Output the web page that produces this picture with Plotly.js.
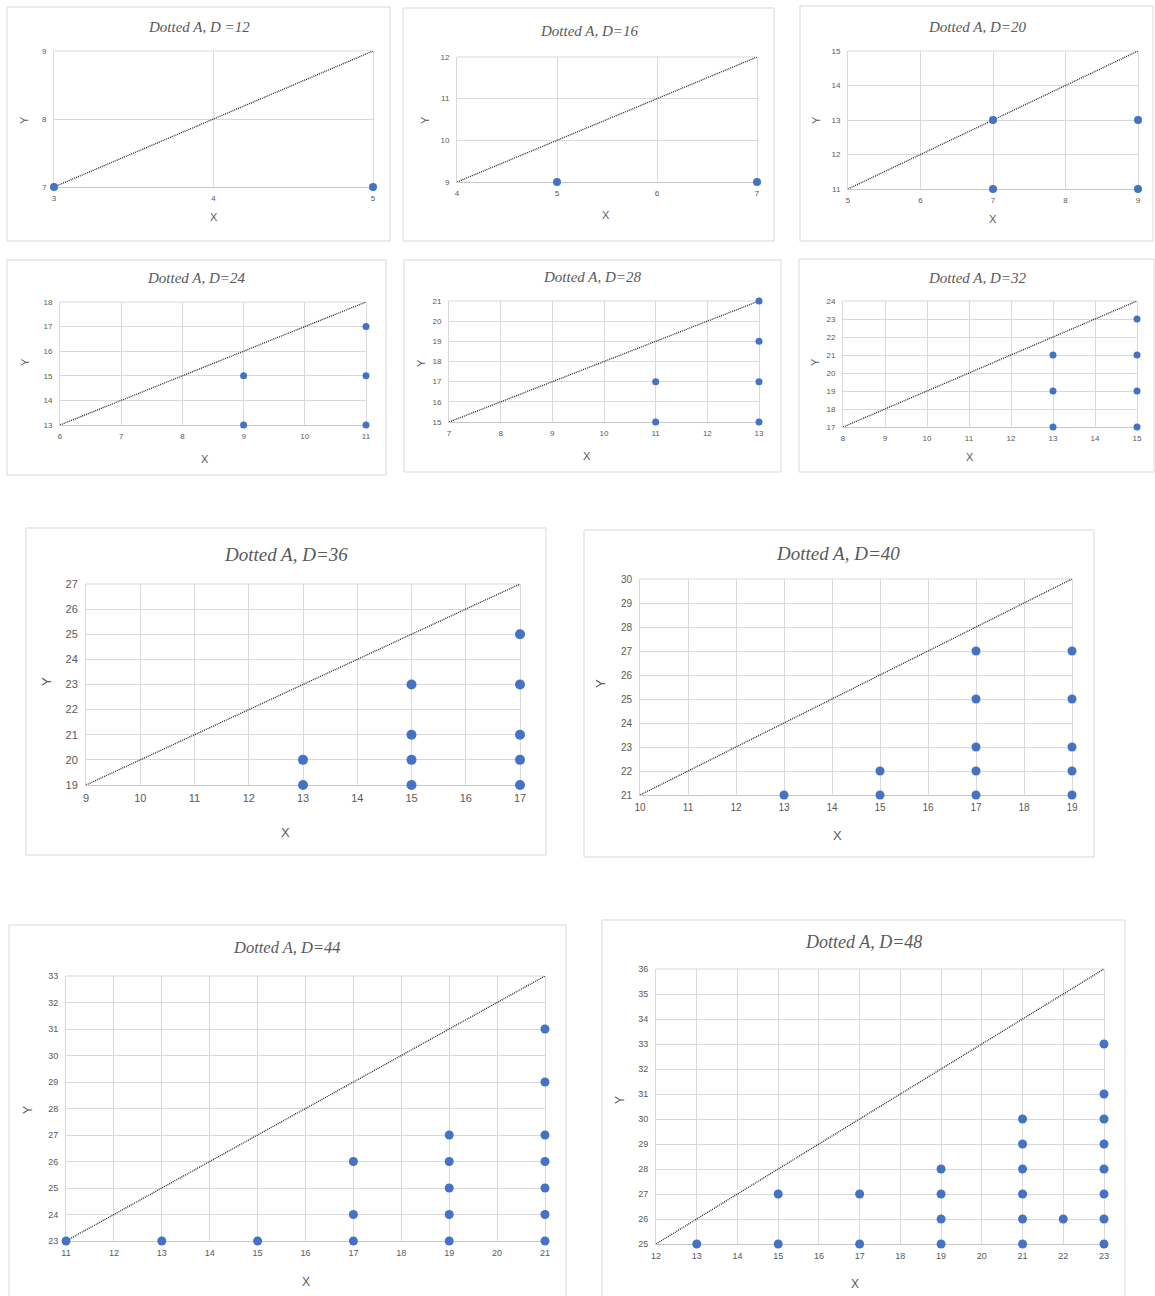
<!DOCTYPE html>
<html>
<head>
<meta charset="utf-8">
<script src="https://cdn.plot.ly/plotly-3.0.1.min.js"></script>
<style>
  html, body { margin: 0; padding: 0; background: #ffffff; }
  #chart { width: 1155px; height: 1296px; }
</style>
</head>
<body>
<div id="chart"></div>
<script>
// Lattice points for the dotted A figures, one panel per D value
const titles = ['Dotted A, D =12', 'Dotted A, D=16', 'Dotted A, D=20', 'Dotted A, D=24',
                'Dotted A, D=28', 'Dotted A, D=32', 'Dotted A, D=36', 'Dotted A, D=40',
                'Dotted A, D=44', 'Dotted A, D=48'];

// Axis ranges per panel (the diagonal runs corner to corner)
const xMin = [3, 4, 5, 6, 7, 8, 9, 10, 11, 12];
const xMax = [5, 7, 9, 11, 13, 15, 17, 19, 21, 23];
const yMin = [7, 9, 11, 13, 15, 17, 19, 21, 23, 25];
const yMax = [9, 12, 15, 18, 21, 24, 27, 30, 33, 36];

const ptsX = [
  [3, 5],
  [5, 7],
  [7, 7, 9, 9],
  [9, 9, 11, 11, 11],
  [11, 11, 13, 13, 13, 13],
  [13, 13, 13, 15, 15, 15, 15],
  [13, 13, 15, 15, 15, 15, 17, 17, 17, 17, 17],
  [13, 15, 15, 17, 17, 17, 17, 17, 19, 19, 19, 19, 19],
  [11, 13, 15, 17, 17, 17, 19, 19, 19, 19, 19, 21, 21, 21, 21, 21, 21, 21],
  [13, 15, 15, 17, 17, 19, 19, 19, 19, 21, 21, 21, 21, 21, 21, 22, 23, 23, 23, 23, 23, 23, 23, 23]
];
const ptsY = [
  [7, 7],
  [9, 9],
  [13, 11, 13, 11],
  [15, 13, 17, 15, 13],
  [17, 15, 21, 19, 17, 15],
  [21, 19, 17, 23, 21, 19, 17],
  [20, 19, 23, 21, 20, 19, 25, 23, 21, 20, 19],
  [21, 22, 21, 27, 25, 23, 22, 21, 27, 25, 23, 22, 21],
  [23, 23, 23, 26, 24, 23, 27, 26, 25, 24, 23, 31, 29, 27, 26, 25, 24, 23],
  [25, 27, 25, 27, 25, 28, 27, 26, 25, 30, 29, 28, 27, 26, 25, 26, 33, 31, 30, 29, 28, 27, 26, 25]
];

// Page geometry in pixels: plot area [left, right, top, bottom]
const plotBox = [
  [54, 373, 51, 187], [457, 757, 57, 182], [848, 1138, 51, 189],
  [60, 366, 302, 425], [449, 759, 301, 422], [843, 1137, 301, 427],
  [86, 520, 584, 785], [640, 1072, 579, 795],
  [66, 545, 976, 1241], [656, 1104, 969, 1244]
];
// Chart frame [left, right, top, bottom]
const frameBox = [
  [7, 390, 7, 241], [403, 774, 8, 241], [800, 1153, 6, 241],
  [7, 386, 260, 475], [404, 781, 260, 472], [799, 1154, 259, 472],
  [26, 546, 528, 855], [584, 1094, 530, 857],
  [9, 566, 925, 1310], [602, 1125, 920, 1310]
];
// Title centre [x, y], axis title centres [xLabelX, xLabelY, yLabelX, yLabelY]
const titlePos = [
  [199, 27], [589, 31], [977, 27], [196, 278], [592, 277], [977, 278],
  [286, 554], [838, 553], [287, 947], [863, 942]
];
const axisLabelPos = [
  [214, 217, 24, 120], [606, 215, 425, 120], [993, 219, 816, 120],
  [205, 459, 25, 362], [587, 456, 421, 363], [970, 457, 815, 362],
  [285, 832, 46, 682], [838, 835, 600, 684],
  [306, 1282, 28, 1110], [855, 1284, 620, 1100]
];
// Text sizes per panel: [title, tick, axis title, marker]
const sizes = [
  [15, 8, 11, 8], [15, 8, 11, 8], [15, 8, 11, 8],
  [15, 8, 11, 7], [15, 8, 11, 7], [15, 8, 11, 7],
  [19, 11, 13, 10], [19, 10, 13, 9],
  [16.5, 9, 12, 9], [18, 9, 12, 9]
];

const W = 1155, H = 1296;
const px = v => v / W;
const py = v => 1 - v / H;

const GRAY_TEXT = '#595959';
const GRID = '#d9d9d9';
const BLUE = '#4472c4';
const SANS = 'Liberation Sans, Arial, sans-serif';
const SERIF = 'Liberation Serif, Times New Roman, serif';

const data = [];
const layout = {
  width: W, height: H,
  margin: {l: 0, r: 0, t: 0, b: 0},
  paper_bgcolor: '#ffffff',
  plot_bgcolor: '#ffffff',
  showlegend: false,
  shapes: [],
  annotations: []
};

titles.forEach((title, i) => {
  const n = i + 1;
  const xa = 'xaxis' + (n === 1 ? '' : n);
  const ya = 'yaxis' + (n === 1 ? '' : n);
  const xr = 'x' + (n === 1 ? '' : n);
  const yr = 'y' + (n === 1 ? '' : n);
  const [l, r, t, b] = plotBox[i];
  const [titleSize, tickSize, labSize, mSize] = sizes[i];

  layout[xa] = {
    domain: [px(l), px(r)],
    anchor: yr,
    range: [xMin[i], xMax[i]],
    dtick: 1,
    tick0: xMin[i],
    showgrid: true,
    gridcolor: GRID,
    gridwidth: 1,
    zeroline: false,
    showline: true,
    linecolor: '#c8c8c8',
    linewidth: 1,
    mirror: false,
    layer: 'below traces',
    ticks: 'outside',
    ticklen: 3,
    tickcolor: 'rgba(0,0,0,0)',
    tickfont: {family: SANS, size: tickSize, color: GRAY_TEXT},
    fixedrange: true
  };
  layout[ya] = {
    domain: [py(b), py(t)],
    anchor: xr,
    range: [yMin[i], yMax[i]],
    dtick: 1,
    tick0: yMin[i],
    showgrid: true,
    gridcolor: GRID,
    gridwidth: 1,
    zeroline: false,
    showline: true,
    linecolor: GRID,
    linewidth: 1,
    mirror: true,
    layer: 'below traces',
    ticks: 'outside',
    ticklen: 5,
    tickcolor: 'rgba(0,0,0,0)',
    tickfont: {family: SANS, size: tickSize, color: GRAY_TEXT},
    fixedrange: true
  };

  // top edge of the plot area
  layout.shapes.push({
    type: 'line', xref: 'paper', yref: 'paper',
    x0: px(l), x1: px(r), y0: py(t), y1: py(t),
    line: {color: GRID, width: 1},
    layer: 'below'
  });

  // outer chart frame
  const [fl, fr, ft, fb] = frameBox[i];
  layout.shapes.push({
    type: 'rect', xref: 'paper', yref: 'paper',
    x0: px(fl), x1: px(fr), y0: py(fb), y1: py(ft),
    line: {color: '#d9d9d9', width: 1},
    fillcolor: 'rgba(0,0,0,0)',
    layer: 'below'
  });

  // diagonal reference line
  data.push({
    type: 'scatter', mode: 'lines',
    x: [xMin[i], xMax[i]], y: [yMin[i], yMax[i]],
    xaxis: xr, yaxis: yr,
    line: {color: '#262626', width: 1.3, dash: '1px,1px'},
    hoverinfo: 'skip',
    cliponaxis: false
  });

  // lattice points
  data.push({
    type: 'scatter', mode: 'markers',
    x: ptsX[i], y: ptsY[i],
    xaxis: xr, yaxis: yr,
    marker: {color: BLUE, size: mSize, line: {width: 0}},
    cliponaxis: false
  });

  const [tx, ty] = titlePos[i];
  layout.annotations.push({
    xref: 'paper', yref: 'paper', x: px(tx), y: py(ty),
    xanchor: 'center', yanchor: 'middle', showarrow: false,
    text: title,
    font: {family: SERIF, size: titleSize, color: GRAY_TEXT, style: 'italic'}
  });

  const [xlx, xly, ylx, yly] = axisLabelPos[i];
  layout.annotations.push({
    xref: 'paper', yref: 'paper', x: px(xlx), y: py(xly),
    xanchor: 'center', yanchor: 'middle', showarrow: false,
    text: 'X',
    font: {family: SANS, size: labSize, color: GRAY_TEXT}
  });
  layout.annotations.push({
    xref: 'paper', yref: 'paper', x: px(ylx), y: py(yly),
    xanchor: 'center', yanchor: 'middle', showarrow: false,
    text: 'Y', textangle: -90,
    font: {family: SANS, size: labSize, color: GRAY_TEXT}
  });
});

Plotly.newPlot('chart', data, layout, {displayModeBar: false, staticPlot: true});
</script>
</body>
</html>
